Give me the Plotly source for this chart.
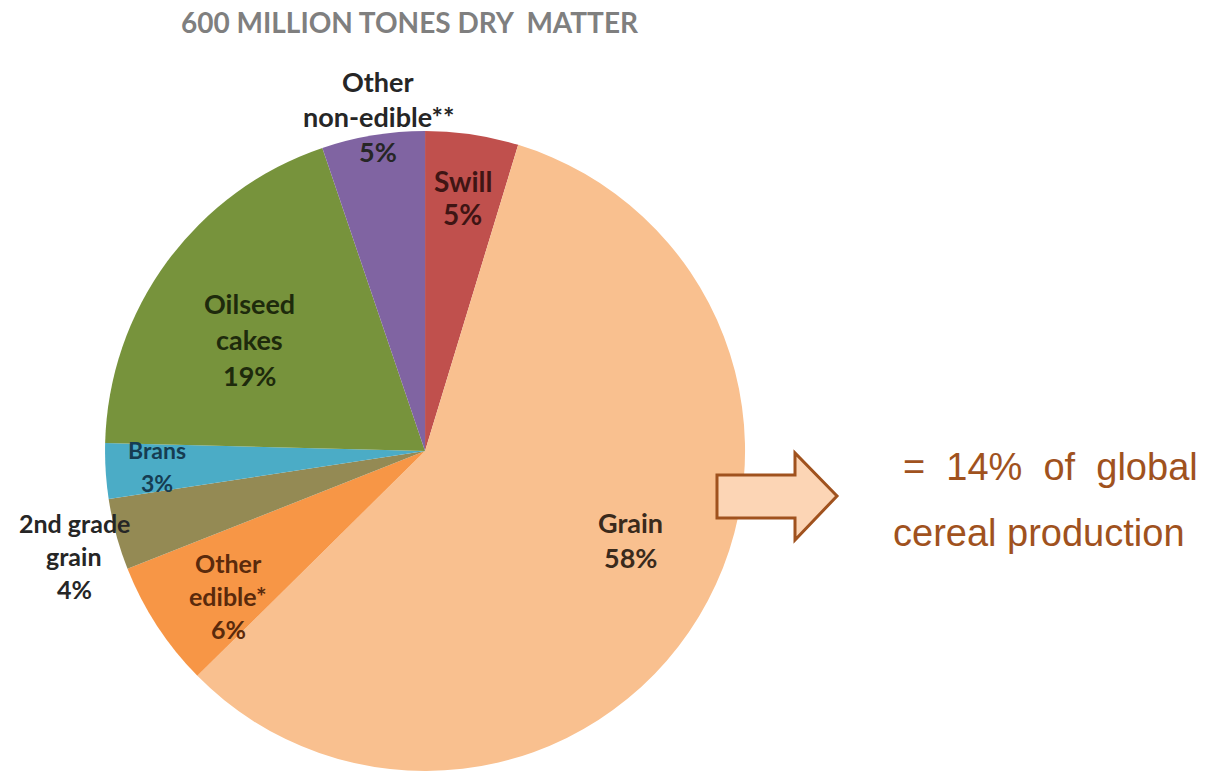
import math
import plotly.graph_objects as go

# ---------------- data ----------------
categories = ["Swill", "Grain", "Other edible*", "2nd grade grain", "Brans",
              "Oilseed cakes", "Other non-edible**"]
label_lines = [["Swill"], ["Grain"], ["Other", "edible*"], ["2nd grade", "grain"],
               ["Brans"], ["Oilseed", "cakes"], ["Other", "non-edible**"]]
shares = [4.7, 57.9, 6.4, 3.6, 2.8, 19.4, 5.2]
title_text = "600 MILLION TONES DRY  MATTER"
note_lines = ["= 14% of global", "cereal production"]

# ---------------- style ----------------
W, H = 1220, 777
slice_colors = ["#C0504D", "#F9C08F", "#F79646", "#948A54", "#4BACC6", "#77933C", "#8064A2"]
text_colors = ["#3f1514", "#3a2a1c", "#5a2a0c", "#262626", "#163c52", "#1e2a0c", "#262626"]
label_r = [0.80, 0.70, 0.765, 1.145, 0.84, 0.65, 1.057]
label_dtheta = [0, -7.6, -3.3, -1.6, 0.4, -3.8, 1.4]
label_size = [28, 27, 25, 25, 23, 27, 27]
label_gap = [33, 35, 33, 33, 33, 36, 35]
dom_x = [0.0861, 0.6107]
dom_y = [0.0077, 0.8314]
brown = "#A0521E"
note_word_gap = [" &nbsp;", " "]

fig = go.Figure(go.Pie(
    labels=categories, values=shares, sort=False, direction="clockwise", rotation=0,
    marker=dict(colors=slice_colors, line=dict(width=0)),
    textinfo="none", hoverinfo="label+percent", showlegend=False,
    domain=dict(x=dom_x, y=dom_y),
))

# label placement derived from slice angles
cx = sum(dom_x) / 2
cy = sum(dom_y) / 2
R = min((dom_x[1] - dom_x[0]) * W, (dom_y[1] - dom_y[0]) * H) / 2
total = sum(shares)
annotations = []
cum = 0.0
for i, v in enumerate(shares):
    mid = (cum + v / 2) / total * 360 + label_dtheta[i]
    cum += v
    th = math.radians(mid)
    ax = cx + label_r[i] * R * math.sin(th) / W
    ay = cy + label_r[i] * R * math.cos(th) / H
    lines = label_lines[i] + [f"{round(v)}%"]
    n = len(lines)
    for k, line in enumerate(lines):
        annotations.append(dict(
            x=ax, y=ay, xref="paper", yref="paper", text=line, showarrow=False,
            xanchor="center", yanchor="middle",
            yshift=-(k - (n - 1) / 2) * label_gap[i],
            font=dict(family="Lato", size=label_size[i], color=text_colors[i], weight=700),
        ))

annotations.append(dict(
    x=410 / W, y=1 - 22 / H, xref="paper", yref="paper", text=title_text,
    showarrow=False, xanchor="center", yanchor="middle",
    font=dict(family="Lato", size=28, color="#7f7f7f", weight=700),
))
note_x = [1050, 1039]
for k, line in enumerate(note_lines):
    annotations.append(dict(
        x=note_x[k] / W, y=1 - (467 + 66 * k) / H, xref="paper", yref="paper",
        text=note_word_gap[k].join(line.split(" ")),
        showarrow=False, xanchor="center", yanchor="middle",
        font=dict(family="Liberation Sans", size=38, color=brown),
    ))

# block arrow
pts = [(717, 475), (795, 475), (795, 453), (837, 496), (795, 540), (795, 518), (717, 518)]
path = "M " + " L ".join(f"{x / W:.5f},{1 - y / H:.5f}" for x, y in pts) + " Z"
shapes = [dict(type="path", xref="paper", yref="paper", path=path,
               fillcolor="#FCD5B5", line=dict(color=brown, width=3))]

fig.update_layout(
    width=W, height=H, margin=dict(l=0, r=0, t=0, b=0),
    paper_bgcolor="white", plot_bgcolor="white",
    annotations=annotations, shapes=shapes,
)
fig.write_html("out.html", config={"displayModeBar": False},
               post_script="document.body.style.margin='0';document.body.style.overflow='hidden';")
